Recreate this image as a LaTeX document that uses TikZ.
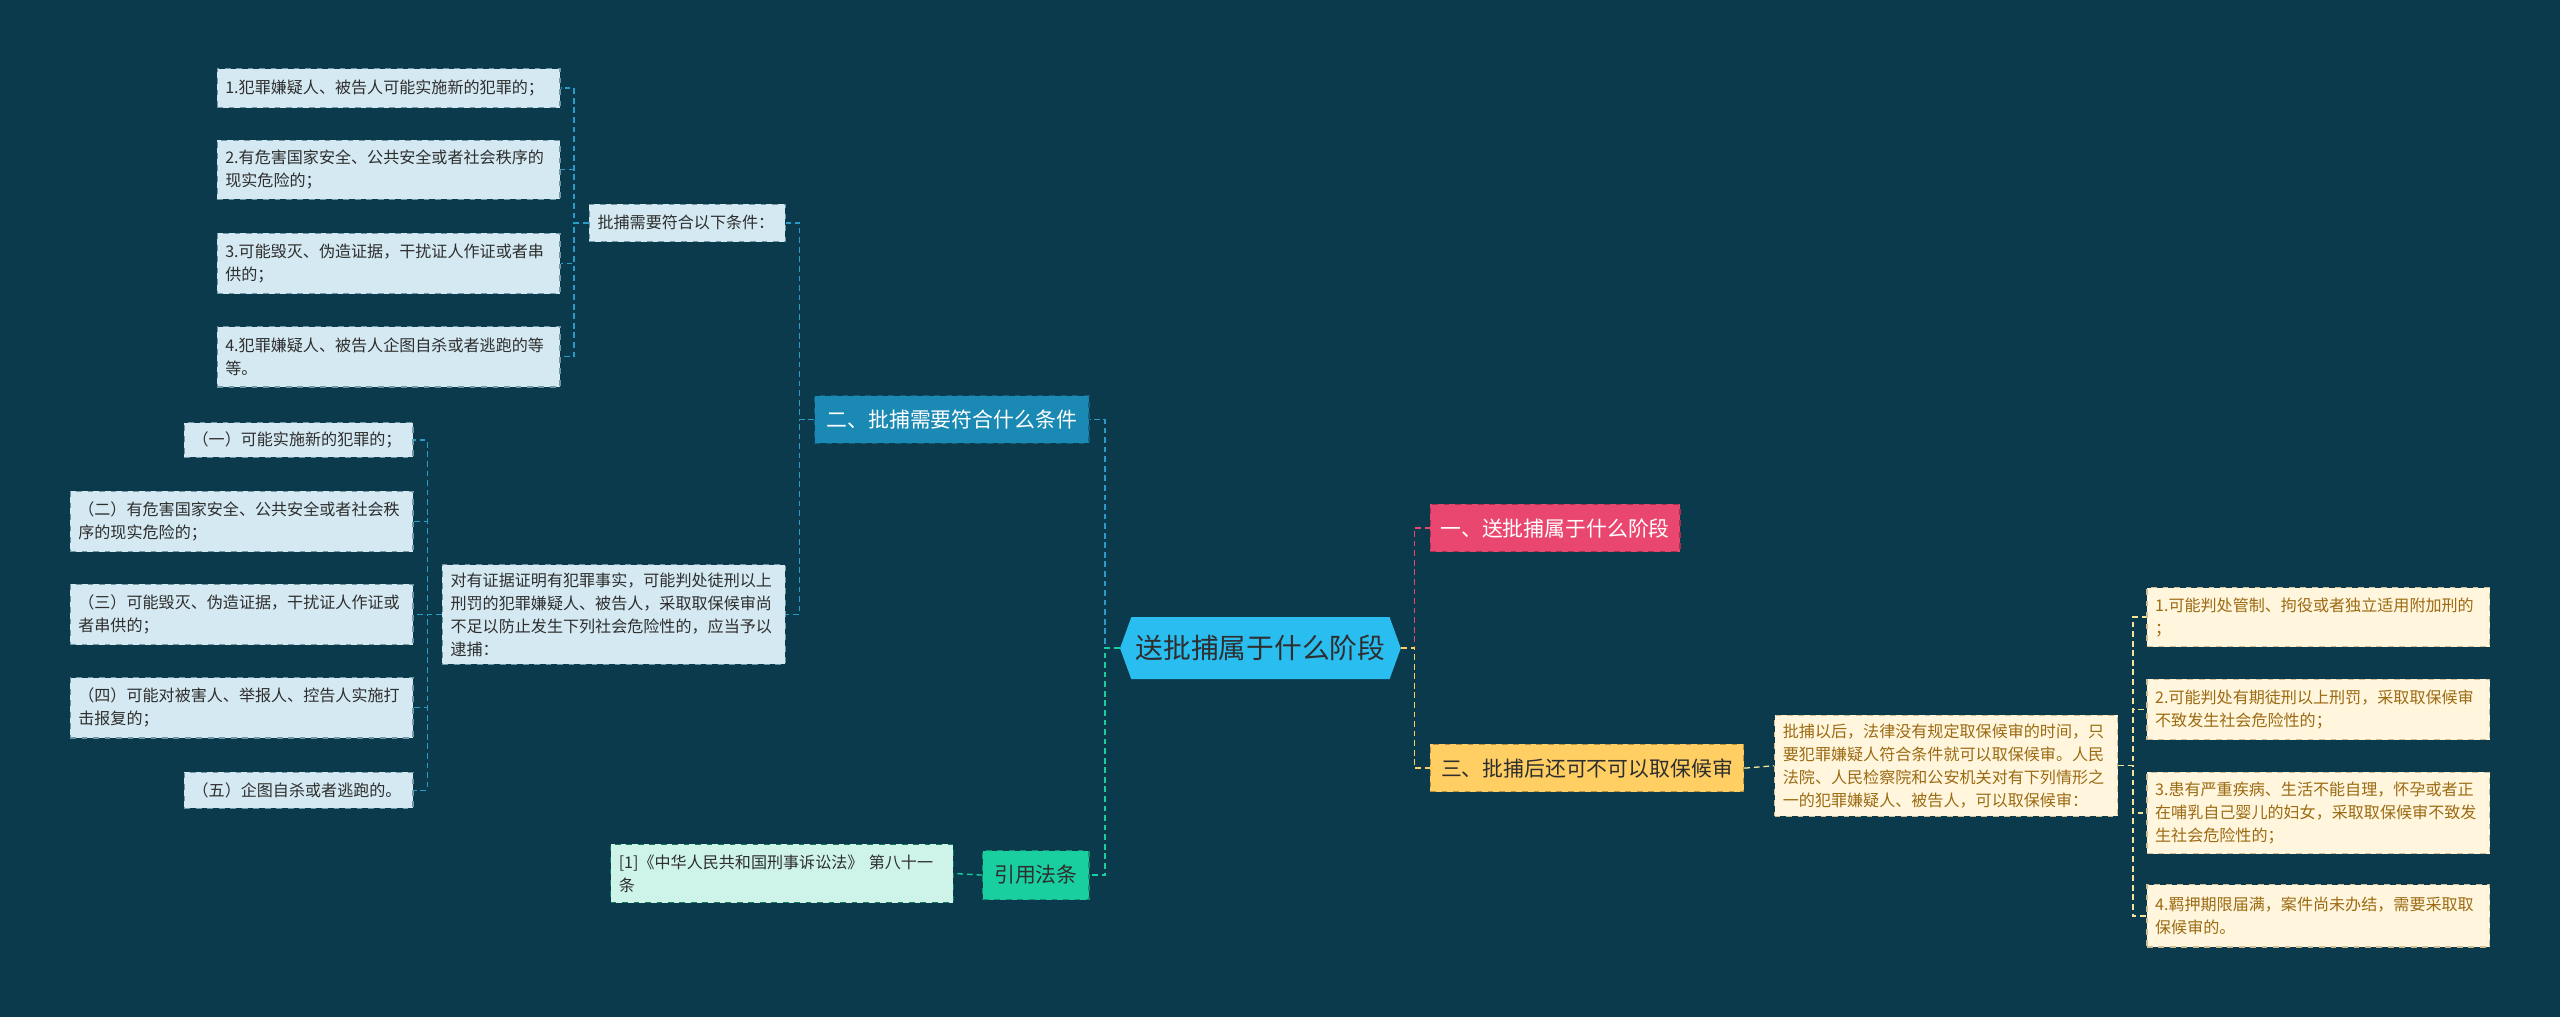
\documentclass[tikz,border=0pt]{standalone}
\usepackage{fontspec}
\setmainfont{Noto Sans CJK SC}
\usetikzlibrary{positioning,shapes.symbols}

\definecolor{bgcol}{HTML}{0B3A4D}
\definecolor{leaffill}{HTML}{D4E9F1}
\definecolor{leafedge}{HTML}{6F97A8}
\definecolor{inktext}{HTML}{2E2E2E}
\definecolor{rootcol}{HTML}{2ABDF0}
\definecolor{bluecol}{HTML}{1A89B3}
\definecolor{pinkcol}{HTML}{EA4770}
\definecolor{yellowcol}{HTML}{FFCF63}
\definecolor{greencol}{HTML}{19CFA0}
\definecolor{mintfill}{HTML}{CEF4EA}
\definecolor{creamfill}{HTML}{FFF6DD}
\definecolor{browntext}{HTML}{9C6A12}
\definecolor{bluelinecol}{HTML}{2B9CC7}
\definecolor{yellowlinecol}{HTML}{F6E39A}

\begin{document}
\begin{tikzpicture}[x=0.03cm, y=-0.03cm,
    leaf/.style={rectangle, draw=leafedge, dashed, line width=0.6pt, fill=leaffill, text=inktext,
        font=\fontsize{8.4}{12}\selectfont, align=left, inner xsep=0.15cm, inner ysep=0pt},
    creamleaf/.style={leaf, draw=browntext!45, fill=creamfill, text=browntext},
    mintleaf/.style={leaf, draw=greencol!60!black, fill=mintfill},
    topic/.style={rectangle, dashed, line width=0.6pt, font=\fontsize{10.9}{13}\selectfont,
        inner sep=0pt, minimum height=0.87cm},
    rootnode/.style={signal, signal to=west and east, signal pointer angle=140, fill=rootcol,
        text=inktext, font=\fontsize{14.5}{16}\selectfont, inner sep=0pt,
        minimum width=5.16cm, minimum height=1.14cm},
    link/.style={dash pattern=on 3pt off 2pt, line width=0.7pt},
    bluelink/.style={link, bluelinecol},
    greenlink/.style={link, greencol},
    pinklink/.style={link, pinkcol},
    yellowlink/.style={link, yellowcol},
    creamlink/.style={link, yellowlinecol}
]

% Background
\fill[bgcol] (0,0) rectangle (1568,623);
\useasboundingbox (0,0) rectangle (1568,623);

% Root
\node[rootnode] (root) at (772,397) {送批捕属于什么阶段};

% Main topics
\node[topic, fill=bluecol, draw=bluecol!70!black, text=white, minimum width=5.04cm] (sec2) at (583,257) {二、批捕需要符合什么条件};
\node[topic, fill=greencol, draw=greencol!70!black, text=inktext, minimum width=1.95cm, minimum height=0.9cm] (law) at (634.5,536) {引用法条};
\node[topic, fill=pinkcol, draw=pinkcol!70!black, text=white, minimum width=4.59cm] (sec1) at (952.5,323.5) {一、送批捕属于什么阶段};
\node[topic, fill=yellowcol, draw=yellowcol!70!black, text=inktext, minimum width=5.76cm] (sec3) at (972,470.5) {三、批捕后还可不可以取保候审};

% Conditions for arrest
\node[leaf, text width=3.3cm, minimum height=0.69cm] (rule) at (421,136.5) {批捕需要符合以下条件：};
\foreach \n/\y/\h/\txt in {
    1/54/24/{1.犯罪嫌疑人、被告人可能实施新的犯罪的；},
    2/104/36/{2.有危害国家安全、公共安全或者社会秩序的\\现实危险的；},
    3/161.5/37/{3.可能毁灭、伪造证据，干扰证人作证或者串\\供的；},
    4/218.5/37/{4.犯罪嫌疑人、被告人企图自杀或者逃跑的等\\等。}} {
    \node[leaf, text width=6cm, minimum height=\h*0.03cm] (cond\n) at (238,\y) {\txt};
}

\node[leaf, text width=6cm, minimum height=1.83cm] (arrest) at (376,376.5) {对有证据证明有犯罪事实，可能判处徒刑以上\\刑罚的犯罪嫌疑人、被告人，采取取保候审尚\\不足以防止发生下列社会危险性的，应当予以\\逮捕：};
\node[leaf, text width=3.9cm, minimum height=0.63cm] (risk1) at (183,269.5) {（一）可能实施新的犯罪的；};
\foreach \n/\y/\txt in {
    2/319.5/{（二）有危害国家安全、公共安全或者社会秩\\序的现实危险的；},
    3/376.5/{（三）可能毁灭、伪造证据，干扰证人作证或\\者串供的；},
    4/433.5/{（四）可能对被害人、举报人、控告人实施打\\击报复的；}} {
    \node[leaf, text width=6cm, minimum height=1.11cm] (risk\n) at (148,\y) {\txt};
}
\node[leaf, text width=3.9cm, minimum height=0.66cm] (risk5) at (183,484) {（五）企图自杀或者逃跑的。};

% Citation
\node[mintleaf, text width=6cm, minimum height=1.08cm] (cite) at (479,535) {[1]《中华人民共和国刑事诉讼法》 第八十一\\条};

% Bail after arrest
\node[creamleaf, text width=6cm, minimum height=1.86cm] (bail) at (1192,469) {批捕以后，法律没有规定取保候审的时间，只\\要犯罪嫌疑人符合条件就可以取保候审。人民\\法院、人民检察院和公安机关对有下列情形之\\一的犯罪嫌疑人、被告人，可以取保候审：};
\foreach \n/\y/\h/\txt in {
    1/378/36/{1.可能判处管制、拘役或者独立适用附加刑的\\；},
    2/434.5/37/{2.可能判处有期徒刑以上刑罚，采取取保候审\\不致发生社会危险性的；},
    3/498/50/{3.患有严重疾病、生活不能自理，怀孕或者正\\在哺乳自己婴儿的妇女，采取取保候审不致发\\生社会危险性的；},
    4/561/38/{4.羁押期限届满，案件尚未办结，需要采取取\\保候审的。}} {
    \node[creamleaf, text width=6cm, minimum height=\h*0.03cm] (case\n) at (1420,\y) {\txt};
}

% Connections
\draw[pinklink] (root.east) -- ++(8,0) |- (sec1.west);
\draw[yellowlink] (root.east) -- ++(8,0) |- (sec3.west);
\draw[bluelink] (root.west) -- ++(-9,0) |- (sec2.east);
\draw[greenlink] (root.west) -- ++(-9,0) |- (law.east);
\draw[greenlink] (law.west) -- (cite.east);

\draw[bluelink] (sec2.west) -- ++(-9,0) |- (rule.east);
\draw[bluelink] (sec2.west) -- ++(-9,0) |- (arrest.east);
\foreach \n in {1,2,3,4} {
    \draw[bluelink] (rule.west) -- ++(-9,0) |- (cond\n.east);
}
\foreach \n in {1,2,3,4,5} {
    \draw[bluelink] (arrest.west) -- ++(-9,0) |- (risk\n.east);
}

\draw[creamlink] (sec3.east) -- (bail.west);
\foreach \n in {1,2,3,4} {
    \draw[creamlink] (bail.east) -- ++(9,0) |- (case\n.west);
}

\end{tikzpicture}
\end{document}
